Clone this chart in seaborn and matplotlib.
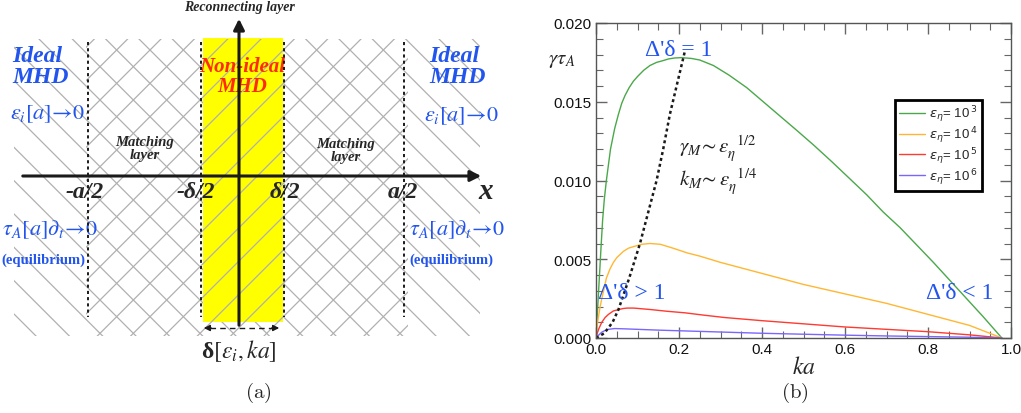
import numpy as np
import pandas as pd
import matplotlib
matplotlib.use("Agg")
import matplotlib.pyplot as plt
import matplotlib.patches as patches
from matplotlib.font_manager import FontProperties
from matplotlib.ticker import MultipleLocator
import seaborn as sns

# ---------------- data ----------------
ka_g = [0, 0.002, 0.004, 0.008, 0.012, 0.016, 0.02, 0.025, 0.035, 0.045, 0.054, 0.062, 0.07, 0.08,
        0.09, 0.1, 0.115, 0.13, 0.146, 0.16, 0.175, 0.19, 0.206, 0.23, 0.25, 0.283, 0.32, 0.363,
        0.403, 0.443, 0.483, 0.524, 0.568, 0.612, 0.652, 0.692, 0.733, 0.773, 0.813, 0.853,
        0.893, 0.933, 0.978]
gam_g = [0, 0.0010, 0.0019, 0.0038, 0.0057, 0.0075, 0.0088, 0.0100, 0.0120, 0.0133, 0.0142,
         0.0149, 0.0154, 0.0159, 0.0163, 0.0166, 0.0170, 0.0173, 0.0175, 0.0176, 0.01772,
         0.01778, 0.0178, 0.01775, 0.01765, 0.0173, 0.0167, 0.0159, 0.0150, 0.0141, 0.0132,
         0.01226, 0.0112, 0.0101, 0.0091, 0.0080, 0.0070, 0.0059, 0.0048, 0.00365, 0.0025,
         0.00135, 0.0]

ka_o = [0, 0.002, 0.005, 0.01, 0.014, 0.02, 0.025, 0.034, 0.042, 0.05, 0.058, 0.066, 0.078, 0.09,
        0.11, 0.13, 0.155, 0.186, 0.22, 0.25, 0.3, 0.35, 0.4, 0.5, 0.6, 0.7, 0.8, 0.9, 0.978]
gam_o = [0, 0.0006, 0.0012, 0.0020, 0.0025, 0.0032, 0.0038, 0.0044, 0.0048, 0.0051, 0.0053,
         0.0055, 0.0057, 0.0058, 0.00595, 0.0060, 0.00595, 0.0057, 0.0054, 0.0052, 0.0048,
         0.00445, 0.0041, 0.0034, 0.0028, 0.0022, 0.0015, 0.0008, 0.0]

ka_r = [0, 0.003, 0.007, 0.014, 0.022, 0.03, 0.042, 0.054, 0.065, 0.075, 0.09, 0.1, 0.134, 0.17,
        0.214, 0.26, 0.31, 0.4, 0.5, 0.6, 0.7, 0.8, 0.9, 0.978]
gam_r = [0, 0.0003, 0.0006, 0.0010, 0.0013, 0.0015, 0.00172, 0.0018, 0.00187, 0.0019, 0.0019,
         0.00188, 0.0018, 0.0017, 0.0016, 0.00145, 0.0013, 0.0011, 0.0009, 0.0007, 0.00055,
         0.0004, 0.0002, 0.0]

ka_b = [0, 0.004, 0.007, 0.014, 0.022, 0.03, 0.045, 0.07, 0.1, 0.15, 0.2, 0.3, 0.4, 0.5, 0.6,
        0.7, 0.8, 0.9, 0.978]
gam_b = [0, 0.00012, 0.0002, 0.00037, 0.00048, 0.00055, 0.0006, 0.00058, 0.00055, 0.0005,
         0.00046, 0.00038, 0.0003, 0.00024, 0.00018, 0.00013, 0.00009, 0.00005, 0.0]

ka_max = [0, 0.02, 0.04, 0.054, 0.08, 0.106, 0.126, 0.146, 0.162, 0.178, 0.196, 0.215]
gam_max = [0, 0.0003, 0.0010, 0.0018, 0.0038, 0.0060, 0.0080, 0.0100, 0.0120, 0.0142, 0.0162, 0.0183]

labels = [r"$\varepsilon_\eta$= 10$^{\,3}$", r"$\varepsilon_\eta$= 10$^{\,4}$",
          r"$\varepsilon_\eta$= 10$^{\,5}$", r"$\varepsilon_\eta$= 10$^{\,6}$"]
colors = ["#4aa84a", "#ffb733", "#ff3a30", "#7a66ff"]

bound_labels = ["-a/2", "-\u03b4/2", "\u03b4/2", "a/2"]

# ---------------- figure ----------------
sns.set_theme(style="ticks")
plt.rcParams["font.family"] = ["Liberation Sans", "DejaVu Sans"]
plt.rcParams["mathtext.fontset"] = "stix"
plt.rcParams["hatch.linewidth"] = 0.9

W, H = 1021, 414
fig = plt.figure(figsize=(W / 100, H / 100), dpi=100)
fig.patch.set_facecolor("white")

BLUE = "#2255ee"
serif = ["Liberation Serif", "DejaVu Serif"]

# ---------- panel (a): schematic in pixel coordinates ----------
ax0 = fig.add_axes([0, 0, 510 / W, 1])
ax0.set_xlim(0, 510)
ax0.set_ylim(H, 0)
ax0.axis("off")

xa_l, xd_l, xd_r, xa_r = 88, 201, 284, 404
x0, y0 = 239, 177

# hatched background, yellow layer, cross-hatch between -a/2 and a/2
ax0.add_patch(patches.Rectangle((14, 40), 466, 297, facecolor="none", edgecolor="#b0b0b0",
                                lw=0, hatch="\\", zorder=1))
ax0.add_patch(patches.Rectangle((203, 39), 80, 284, facecolor="#ffff00", edgecolor="none", zorder=2))
ax0.add_patch(patches.Rectangle((86, 40), 322, 297, facecolor="none", edgecolor="#b0b0b0",
                                lw=0, hatch="/", zorder=3))

for xb in [xa_l, xd_l, xd_r, xa_r]:
    ax0.plot([xb, xb], [43, 318], color="k", lw=1.4, ls=(0, (1.6, 1.6)), zorder=4)

ax0.annotate("", xy=(484, y0), xytext=(20, y0),
             arrowprops=dict(arrowstyle="-|>", lw=2.2, color="k", mutation_scale=16), zorder=5)
ax0.annotate("", xy=(x0, 17), xytext=(x0, 329),
             arrowprops=dict(arrowstyle="-|>", lw=2.2, color="k", mutation_scale=16), zorder=5)

ax0.plot([210, 274], [329, 329], color="k", lw=1, ls=(0, (4, 3)), zorder=5)
ax0.annotate("", xy=(201, 329), xytext=(214, 329),
             arrowprops=dict(arrowstyle="-|>", lw=1, color="k", mutation_scale=9))
ax0.annotate("", xy=(282, 329), xytext=(269, 329),
             arrowprops=dict(arrowstyle="-|>", lw=1, color="k", mutation_scale=9))

bi = dict(family=serif, weight="bold", style="italic")
ax0.text(x0, 8, "Reconnecting layer", ha="center", va="center", fontsize=10, **bi)
for xl in [12, 429]:
    ax0.text(xl, 67, "Ideal\nMHD", ha="left", va="center", fontsize=17, color=BLUE,
             linespacing=1.0, **bi)
ax0.text(10, 114, r"$\varepsilon_i[a]\!\rightarrow\!\mathit{0}$", ha="left", va="center",
         fontsize=16, color=BLUE)
ax0.text(424, 116, r"$\varepsilon_i[a]\!\rightarrow\!\mathit{0}$", ha="left", va="center",
         fontsize=16, color=BLUE)
ax0.text(145, 149, "Matching\nlayer", ha="center", va="center", fontsize=10.5,
         linespacing=1.0, **bi)
ax0.text(346, 151, "Matching\nlayer", ha="center", va="center", fontsize=10.5,
         linespacing=1.0, **bi)
ax0.text(242, 77, "Non-ideal\nMHD", ha="center", va="center", fontsize=15, color="#ff2a00",
         linespacing=0.95, **bi)

for xb, lab in zip([85, 196, 285, 403], bound_labels):
    ax0.text(xb, 193, lab, ha="center", va="center", fontsize=17, **bi)
ax0.text(486, 192, "x", ha="center", va="center", fontsize=21, **bi)

ax0.text(2, 230, r"$\tau_A[a]\partial_t\!\rightarrow\!\mathit{0}$", ha="left", va="center",
         fontsize=16, color=BLUE)
ax0.text(409, 230, r"$\tau_A[a]\partial_t\!\rightarrow\!\mathit{0}$", ha="left", va="center",
         fontsize=16, color=BLUE)
ax0.text(43, 260, "(equilibrium)", ha="center", va="center", fontsize=10.5, color=BLUE,
         family=serif, weight="bold")
ax0.text(451, 260, "(equilibrium)", ha="center", va="center", fontsize=10.5, color=BLUE,
         family=serif, weight="bold")
ax0.text(239, 351, "\u03b4$[\\varepsilon_i,ka]$", ha="center", va="center", fontsize=17,
         family=serif, weight="bold")
ax0.text(258, 393, r"$\mathrm{(a)}$", ha="center", va="center", fontsize=15,
         math_fontfamily="cm")

# ---------- panel (b): growth-rate curves ----------
ax = fig.add_axes([596 / W, (H - 339) / H, 415 / W, 315 / H])

df = pd.concat([
    pd.DataFrame({"ka": k, "gamma": g, "eps": lab})
    for k, g, lab in zip([ka_g, ka_o, ka_r, ka_b], [gam_g, gam_o, gam_r, gam_b], labels)
])
sns.lineplot(data=df, x="ka", y="gamma", hue="eps", palette=colors, sort=False,
             lw=1.0, ax=ax, legend=False)
ax.plot(ka_max, gam_max, color="k", lw=1.8, ls=(0, (1.2, 1.2)))

ax.set_xlim(0, 1.0)
ax.set_ylim(0, 0.020)
ax.xaxis.set_major_locator(MultipleLocator(0.2))
ax.xaxis.set_minor_locator(MultipleLocator(0.05))
ax.yaxis.set_major_locator(MultipleLocator(0.005))
ax.yaxis.set_minor_locator(MultipleLocator(0.001))
ax.xaxis.set_major_formatter(matplotlib.ticker.FormatStrFormatter("%.1f"))
ax.yaxis.set_major_formatter(matplotlib.ticker.FormatStrFormatter("%.3f"))
ax.tick_params(which="both", direction="in", top=True, right=True, color="#666666",
               labelsize=11, labelcolor="#111111")
ax.tick_params(which="major", length=8, width=1, pad=3)
ax.tick_params(which="minor", length=5, width=0.8)
for s in ax.spines.values():
    s.set_color("#555555")
    s.set_linewidth(1)
ax.set_xlabel(r"$ka$", fontsize=17, labelpad=0)
ax.set_ylabel("")
fig.text(562 / W, 1 - 60 / H, r"$\gamma\tau_A$", ha="center", va="center", fontsize=15)

handles = [plt.Line2D([], [], color=c, lw=1.0) for c in colors]
leg = ax.legend(handles, labels, loc="upper left", bbox_to_anchor=(0.72, 0.757),
                borderaxespad=0,
                prop=FontProperties(family="Liberation Sans", size=9.5, math_fontfamily="dejavusans"),
                handlelength=2.0, handletextpad=0.3, labelspacing=0.02, borderpad=0.3,
                fancybox=False, framealpha=1)
leg.get_frame().set_edgecolor("black")
leg.get_frame().set_linewidth(2)

tf = dict(family=serif, color=BLUE, fontsize=17)
ax.text(0.2, 0.0183, "\u0394'\u03b4 = 1", ha="center", va="center", **tf)
ax.text(0.005, 0.0029, "\u0394'\u03b4 > 1", ha="left", va="center", **tf)
ax.text(0.795, 0.0029, "\u0394'\u03b4 < 1", ha="left", va="center", **tf)
ax.text(0.2, 0.0121, r"$\gamma_M\!\sim\varepsilon_\eta^{\ \ 1/2}$", ha="left", va="center",
        fontsize=15, color="#222222")
ax.text(0.2, 0.0100, r"$k_M\!\sim\varepsilon_\eta^{\ \ 1/4}$", ha="left", va="center",
        fontsize=15, color="#222222")

fig.text(795 / W, 1 - 393 / H, r"$\mathrm{(b)}$", ha="center", va="center", fontsize=15,
         math_fontfamily="cm")

fig.savefig("out.png", dpi=100)
